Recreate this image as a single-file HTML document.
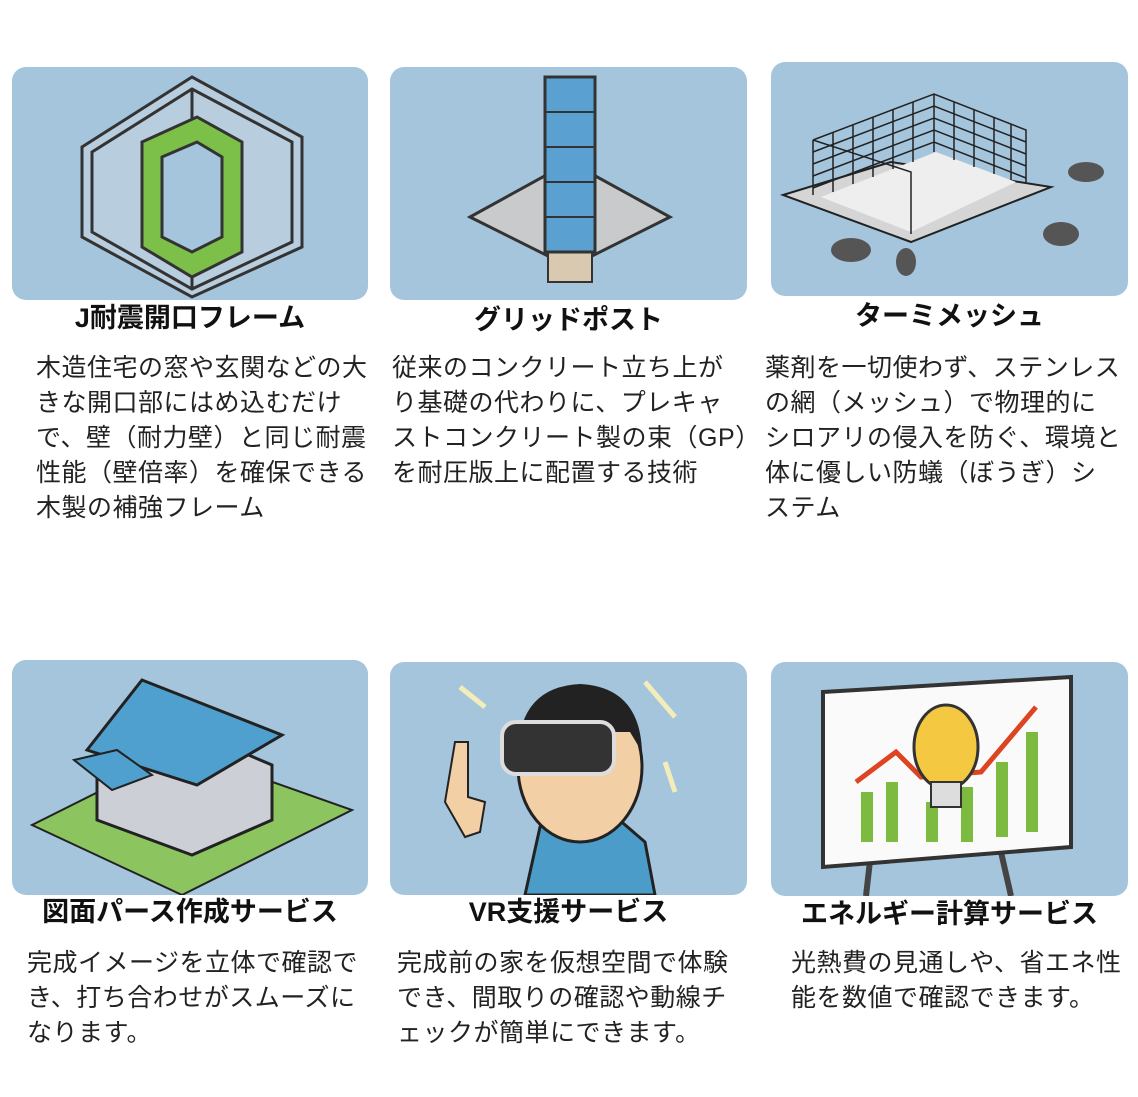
<!DOCTYPE html>
<html><head><meta charset="utf-8"><style>
body{margin:0;width:1138px;height:1097px;background:#fff;position:relative;overflow:hidden;font-family:"Liberation Sans","Noto Sans CJK JP",sans-serif;color:#222}
.img{position:absolute;background:#a5c5dd;border-radius:14px;overflow:hidden}
.img svg{position:absolute;left:0;top:0}
.t{position:absolute;font-weight:bold;font-size:27px;white-space:nowrap;text-align:center;line-height:34px;color:#111}
.b{position:absolute;font-size:25px;line-height:35px;white-space:nowrap;color:#222;letter-spacing:0.5px}
</style></head><body>

<div class="img" style="left:12px;top:67px;width:356px;height:233px">
<svg width="356" height="233"><g fill="none" stroke="#333" stroke-width="3">
<path d="M70 80 L180 10 L290 70 L290 180 L180 230 L70 170 Z" fill="#dcdde0" fill-opacity=".35"/>
<path d="M80 85 L180 22 L280 75 L280 175 L180 222 L80 165 Z"/>
<path d="M180 22 L180 222"/></g>
<path d="M130 75 L185 50 L230 75 L230 185 L180 210 L130 180 Z" fill="#7cc04a" stroke="#333" stroke-width="3"/>
<path d="M150 90 L185 75 L210 90 L210 170 L180 185 L150 170 Z" fill="#a5c5dd" stroke="#333" stroke-width="3"/>
</svg></div>

<div class="img" style="left:390px;top:67px;width:357px;height:233px">
<svg width="357" height="233">
<path d="M80 150 L180 95 L280 150 L180 200 Z" fill="#c9cacc" stroke="#333" stroke-width="3"/>
<rect x="158" y="180" width="44" height="35" fill="#d8c9b0" stroke="#333" stroke-width="2"/>
<rect x="155" y="10" width="50" height="175" fill="#5aa0d0" stroke="#333" stroke-width="3"/>
<g stroke="#333" stroke-width="2"><line x1="155" y1="45" x2="205" y2="45"/><line x1="155" y1="80" x2="205" y2="80"/><line x1="155" y1="115" x2="205" y2="115"/><line x1="155" y1="150" x2="205" y2="150"/></g>
</svg></div>

<div class="img" style="left:771px;top:62px;width:357px;height:234px">
<svg width="357" height="234">
<path d="M12 133 L120 100 L280 125 L140 180 Z" fill="#d5d5d5" stroke="#222" stroke-width="2"/>
<path d="M50 135 L165 90 L245 120 L140 170 Z" fill="#eee"/>
<g stroke="#222" stroke-width="1.5" fill="none">
<path d="M42 78 L163 32 L255 68 L255 120 M42 78 L42 133 M163 32 L163 90 M42 78 L140 110 L140 172"/>
<path d="M42 90 L163 44 L255 80 M42 102 L163 56 L255 92 M42 114 L163 68 L255 104 M42 126 L163 80 L255 116"/>
<path d="M62 71 L62 130 M82 63 L82 122 M102 55 L102 115 M122 48 L122 107 M142 40 L142 100 M183 40 L183 98 M203 48 L203 105 M223 56 L223 112 M240 62 L240 118"/>
</g>
<g fill="#555"><ellipse cx="315" cy="110" rx="18" ry="10"/><ellipse cx="290" cy="172" rx="18" ry="12"/><ellipse cx="80" cy="188" rx="20" ry="12"/><ellipse cx="135" cy="200" rx="10" ry="14"/></g>
</svg></div>

<div class="img" style="left:12px;top:660px;width:356px;height:235px">
<svg width="356" height="235">
<path d="M20 165 L170 90 L340 150 L170 235 Z" fill="#8cc460" stroke="#222" stroke-width="2"/>
<path d="M85 110 L130 50 L260 105 L260 160 L180 195 L85 160 Z" fill="#ccd0d6" stroke="#222" stroke-width="3"/>
<path d="M75 90 L130 20 L270 75 L185 125 Z" fill="#4fa0cf" stroke="#222" stroke-width="3"/>
<path d="M62 100 L105 90 L140 115 L100 130 Z" fill="#4fa0cf" stroke="#222" stroke-width="2"/>
</svg></div>

<div class="img" style="left:390px;top:662px;width:357px;height:233px">
<svg width="357" height="233">
<path d="M135 233 L150 165 L220 150 L255 180 L265 233 Z" fill="#4b9cc8" stroke="#222" stroke-width="3"/>
<ellipse cx="190" cy="105" rx="62" ry="75" fill="#f2cfa5" stroke="#222" stroke-width="3"/>
<path d="M128 90 Q130 25 190 22 Q250 25 252 90 L240 70 L140 70 Z" fill="#222"/>
<rect x="112" y="60" width="112" height="52" rx="14" fill="#333" stroke="#ddd" stroke-width="4"/>
<path d="M55 140 L65 80 L78 80 L78 135 L95 140 L90 170 L75 175 Z" fill="#f2cfa5" stroke="#222" stroke-width="2"/>
<g stroke="#f3ecbb" stroke-width="5"><line x1="70" y1="25" x2="95" y2="45"/><line x1="255" y1="20" x2="285" y2="55"/><line x1="275" y1="100" x2="285" y2="130"/></g>
</svg></div>

<div class="img" style="left:771px;top:662px;width:357px;height:234px">
<svg width="357" height="234">
<g stroke="#444" stroke-width="6"><line x1="100" y1="190" x2="95" y2="234"/><line x1="230" y1="190" x2="240" y2="234"/></g>
<path d="M52 30 L300 15 L300 185 L52 205 Z" fill="#fafafa" stroke="#333" stroke-width="4"/>
<g fill="#7cbb40"><rect x="90" y="130" width="12" height="50"/><rect x="115" y="120" width="12" height="60"/><rect x="155" y="140" width="12" height="40"/><rect x="190" y="125" width="12" height="55"/><rect x="225" y="100" width="12" height="75"/><rect x="255" y="70" width="12" height="100"/></g>
<path d="M85 120 L125 90 L150 115 L210 110 L265 45" fill="none" stroke="#d42" stroke-width="5"/>
<ellipse cx="175" cy="85" rx="32" ry="42" fill="#f5c842" stroke="#333" stroke-width="3"/>
<rect x="160" y="120" width="30" height="25" fill="#ddd" stroke="#333" stroke-width="2"/>
</svg></div>

<div class="t" style="left:12px;width:356px;top:301px">J耐震開口フレーム</div>
<div class="t" style="left:390px;width:357px;top:303px">グリッドポスト</div>
<div class="t" style="left:771px;width:357px;top:299px">ターミメッシュ</div>

<div class="b" style="left:36px;top:351px">木造住宅の窓や玄関などの大<br>きな開口部にはめ込むだけ<br>で、壁（耐力壁）と同じ耐震<br>性能（壁倍率）を確保できる<br>木製の補強フレーム</div>
<div class="b" style="left:392px;top:351px">従来のコンクリート立ち上が<br>り基礎の代わりに、プレキャ<br>ストコンクリート製の束（GP）<br>を耐圧版上に配置する技術</div>
<div class="b" style="left:765px;top:351px">薬剤を一切使わず、ステンレス<br>の網（メッシュ）で物理的に<br>シロアリの侵入を防ぐ、環境と<br>体に優しい防蟻（ぼうぎ）シ<br>ステム</div>

<div class="t" style="left:12px;width:356px;top:895px">図面パース作成サービス</div>
<div class="t" style="left:390px;width:357px;top:895px">VR支援サービス</div>
<div class="t" style="left:771px;width:357px;top:897px">エネルギー計算サービス</div>

<div class="b" style="left:27px;top:946px">完成イメージを立体で確認で<br>き、打ち合わせがスムーズに<br>なります。</div>
<div class="b" style="left:397px;top:946px">完成前の家を仮想空間で体験<br>でき、間取りの確認や動線チ<br>ェックが簡単にできます。</div>
<div class="b" style="left:791px;top:946px">光熱費の見通しや、省エネ性<br>能を数値で確認できます。</div>
</body></html>
